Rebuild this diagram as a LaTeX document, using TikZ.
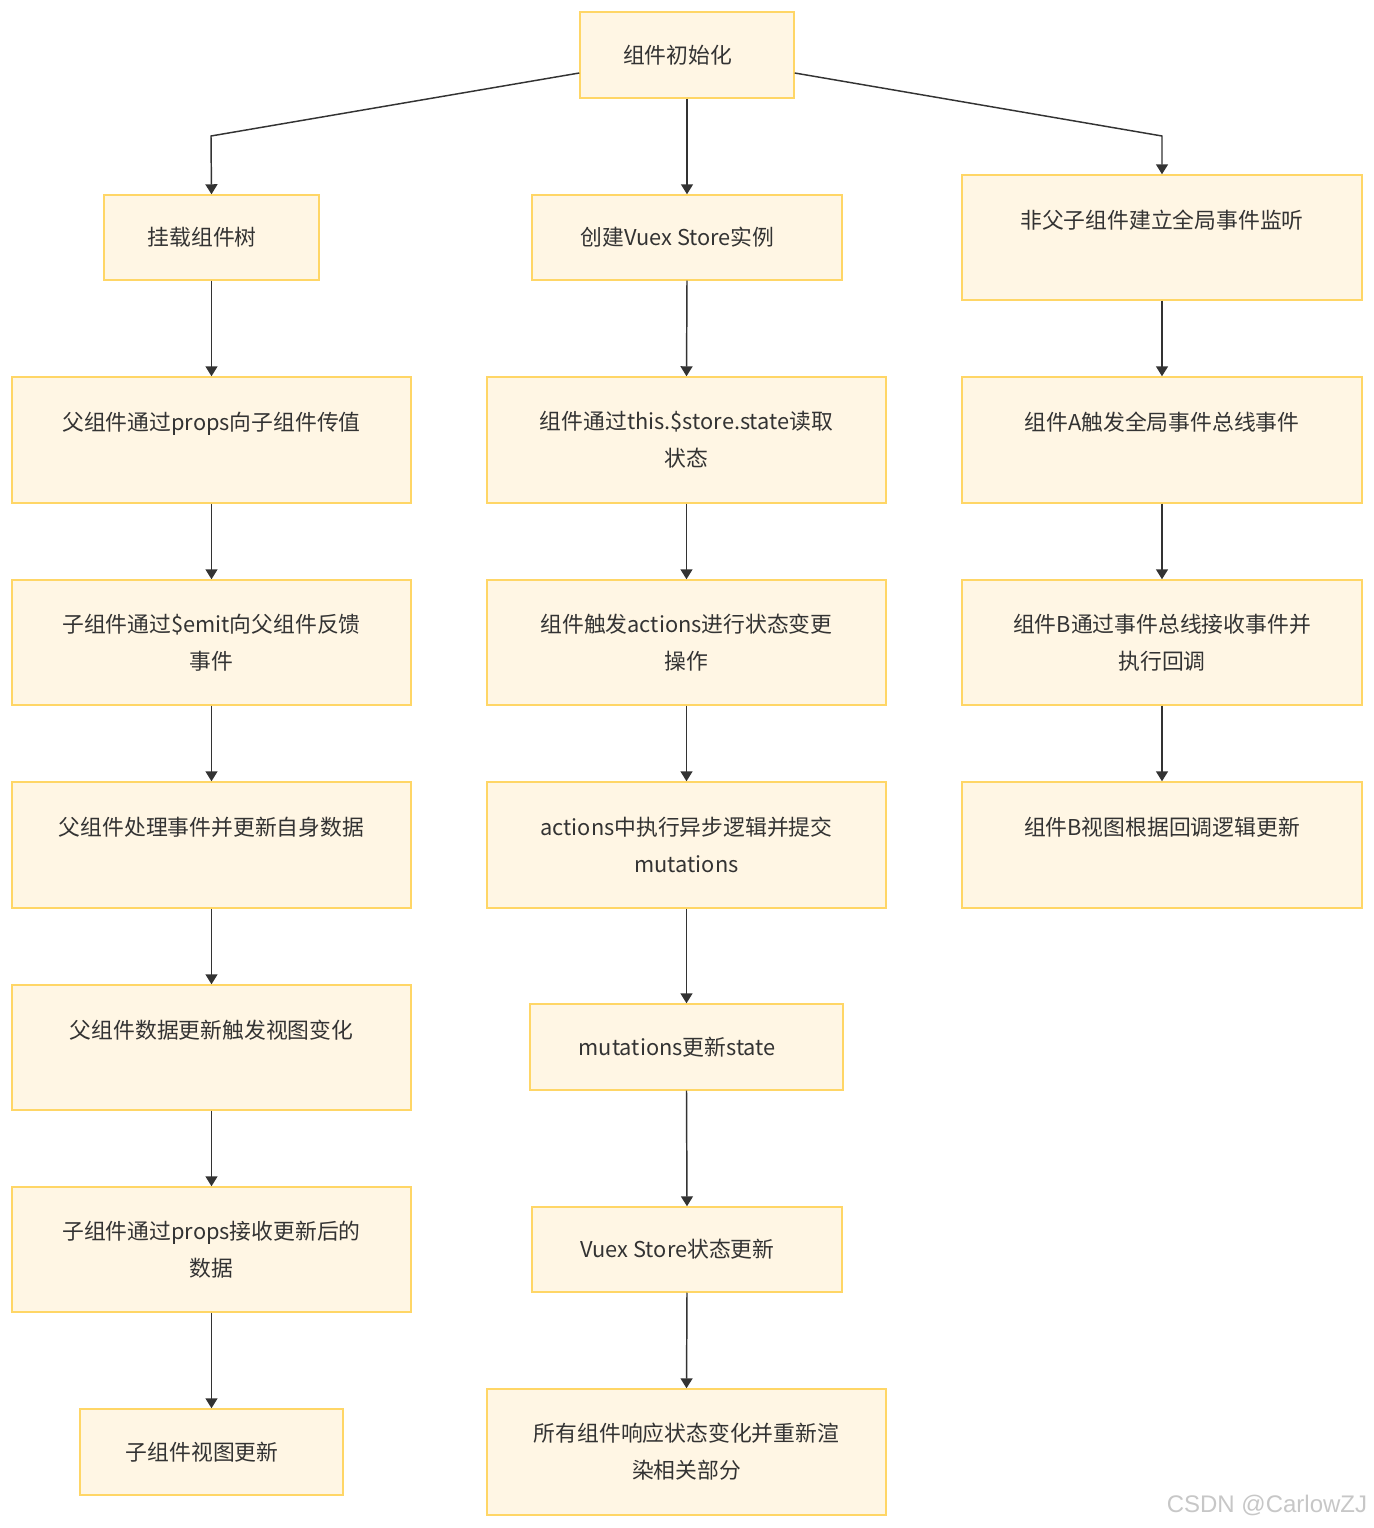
\documentclass[tikz,border=0pt]{standalone}
\usepackage{fontspec}
\setmainfont{Noto Sans CJK SC}
\newfontfamily\wmfont{Liberation Sans}
\usetikzlibrary{arrows.meta}
\definecolor{boxfill}{HTML}{FFF6E4}
\definecolor{boxline}{HTML}{FFD666}
\definecolor{txt}{HTML}{333333}
\definecolor{edge}{HTML}{333333}
\tikzset{
  box/.style={draw=boxline, fill=boxfill, line width=1.1pt, inner sep=0pt, align=center,
    text=txt, font=\fontsize{16.35pt}{27.75pt}\selectfont},
  arr/.style={draw=edge, line width=1.1pt, -{Triangle[length=7.5pt,width=9pt]}}
}
\newcommand\bx[6]{%
  \pgfmathsetmacro\bxcx{(#2+#4)/2}%
  \pgfmathsetmacro\bxcy{(#3+#5)/2}%
  \pgfmathsetmacro\bxw{(#4-#2)*0.75}%
  \pgfmathsetmacro\bxh{(#5-#3)*0.75}%
  \node[box, minimum width=\bxw pt, minimum height=\bxh pt] (#1) at (\bxcx,\bxcy) {#6};}
\newcommand\sh{\hspace*{14pt}}
\newcommand\eline{\\ \rule{0pt}{8pt}}
\begin{document}
\begin{tikzpicture}[x=0.75pt, y=-0.75pt]
\fill[white] (0,0) rectangle (1374,1528);
\useasboundingbox (0,0) rectangle (1374,1528);
% top
\bx{top}{580}{12}{794}{98}{组件初始化\sh}
% left column
\bx{mount}{104}{195}{319}{280}{挂载组件树\sh}
\bx{L1}{12}{377}{411}{503}{父组件通过props向子组件传值\eline}
\bx{L2}{12}{580}{411}{705}{子组件通过\$emit向父组件反馈\\事件}
\bx{L3}{12}{782}{411}{908}{父组件处理事件并更新自身数据\eline}
\bx{L4}{12}{985}{411}{1110}{父组件数据更新触发视图变化\eline}
\bx{L5}{12}{1187}{411}{1312}{子组件通过props接收更新后的\\数据}
\bx{L6}{80}{1409}{343}{1495}{子组件视图更新\sh}
% middle column
\bx{vuex}{532}{195}{842}{280}{创建Vuex Store实例\sh}
\bx{M1}{487}{377}{886}{503}{组件通过this.\$store.state读取\\状态}
\bx{M2}{487}{580}{886}{705}{组件触发actions进行状态变更\\操作}
\bx{M3}{487}{782}{886}{908}{actions中执行异步逻辑并提交\\mutations}
\bx{M4}{530}{1004}{843}{1090}{mutations更新state\sh}
\bx{M5}{532}{1207}{842}{1292}{Vuex Store状态更新\sh}
\bx{M6}{487}{1389}{886}{1515}{所有组件响应状态变化并重新渲\\染相关部分}
% right column
\bx{R0}{962}{175}{1362}{300}{非父子组件建立全局事件监听\eline}
\bx{R1}{962}{377}{1362}{503}{组件A触发全局事件总线事件\eline}
\bx{R2}{962}{580}{1362}{705}{组件B通过事件总线接收事件并\\执行回调}
\bx{R3}{962}{782}{1362}{908}{组件B视图根据回调逻辑更新\eline}
% connectors
\coordinate (bendL) at (211,136);
\coordinate (bendR) at (1162,136);
\draw[arr] ([yshift=-13.5pt]top.west) -- (bendL) -- (mount.north);
\draw[arr] (top.south) -- (vuex.north);
\draw[arr] ([yshift=-13.5pt]top.east) -- (bendR) -- (R0.north);
\draw[arr] (mount.south) -- (L1.north);
\draw[arr] (L1.south) -- (L2.north);
\draw[arr] (L2.south) -- (L3.north);
\draw[arr] (L3.south) -- (L4.north);
\draw[arr] (L4.south) -- (L5.north);
\draw[arr] (L5.south) -- (L6.north);
\draw[arr] (vuex.south) -- (M1.north);
\draw[arr] (M1.south) -- (M2.north);
\draw[arr] (M2.south) -- (M3.north);
\draw[arr] (M3.south) -- (M4.north);
\draw[arr] (M4.south) -- (M5.north);
\draw[arr] (M5.south) -- (M6.north);
\draw[arr] (R0.south) -- (R1.north);
\draw[arr] (R1.south) -- (R2.north);
\draw[arr] (R2.south) -- (R3.north);
% watermark
\node[text=black!22, font=\wmfont\fontsize{18pt}{20pt}\selectfont, inner sep=0pt] (wm) at (1267,1505) {CSDN @CarlowZJ};
\end{tikzpicture}
\end{document}
